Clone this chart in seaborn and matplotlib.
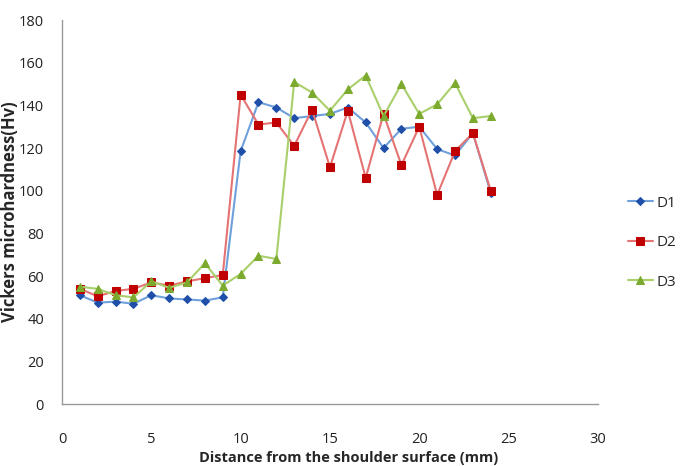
import numpy as np
import pandas as pd
import seaborn as sns
import matplotlib.pyplot as plt

# distance from shoulder surface (mm)
distance = [1, 2, 3, 4, 5, 6, 7, 8, 9, 10, 11, 12, 13, 14, 15, 16, 17, 18, 19, 20, 21, 22, 23, 24]

d1 = [51, 47.5, 48, 47, 51, 49.5, 49, 48.5, 50, 118.5, 141.5, 139, 134, 135, 136, 139,
      132, 120, 129, 130, 119.5, 116.5, 127, 99]
d2 = [54, 50.5, 53, 54, 57, 55.5, 57.5, 59, 60.5, 145, 131, 132, 121, 138, 111, 137.5,
      106, 136, 112, 130, 98, 118.5, 127, 100]
d3 = [55, 54, 51, 50, 57.5, 54.5, 57, 66, 55.5, 61, 69.5, 68, 151, 146, 137.5, 147.5,
      154, 135, 150, 136, 140.5, 150.5, 134, 135]

series_names = ['D1', 'D2', 'D3']
line_colors = ['#6FA0DC', '#E57373', '#A9CF6A']
marker_colors = ['#1F4FA8', '#C00000', '#7BAA2E']
markers = ['D', 's', '^']
marker_sizes = [4, 6, 6]

df = pd.DataFrame({'distance': distance, 'D1': d1, 'D2': d2, 'D3': d3})
long = df.melt(id_vars='distance', var_name='series', value_name='hv')

sns.set_style('white')
plt.rcParams['font.family'] = ['Open Sans', 'DejaVu Sans']

fig = plt.figure(figsize=(6.81, 4.66), dpi=100)
ax = fig.add_axes([0.091, 0.133, 0.787, 0.824])

for name, lc, mc, m, ms in zip(series_names, line_colors, marker_colors, markers, marker_sizes):
    sub = long[long['series'] == name]
    sns.lineplot(data=sub, x='distance', y='hv', ax=ax, color=lc, linewidth=1.5,
                 marker=m, markersize=ms, markerfacecolor=mc, markeredgecolor=mc,
                 label=name)

ax.set_xlim(0, 30)
ax.set_ylim(0, 180)
ax.set_xticks(range(0, 31, 5))
ax.set_yticks(range(0, 181, 20))
ax.tick_params(axis='both', direction='out', length=4, color='#999999',
               labelsize=10.5, labelcolor='#222222')
ax.tick_params(axis='x', pad=16)
ax.tick_params(axis='y', pad=9)
for s in ['top', 'right']:
    ax.spines[s].set_visible(False)
for s in ['left', 'bottom']:
    ax.spines[s].set_color('#999999')
    ax.spines[s].set_linewidth(1)

ax.set_xlabel('Distance from the shoulder surface (mm)', fontsize=10.5, fontweight='bold')
ax.set_ylabel('Vickers microhardness(Hv)', fontsize=12, fontweight='bold')
ax.xaxis.set_label_coords(0.534, -0.122)
ax.yaxis.set_label_coords(-0.08, 0.5)

ax.legend_.remove()
handles, labels = ax.get_legend_handles_labels()
fig.legend(handles, labels, loc='center left', bbox_to_anchor=(0.922, 0.479),
           frameon=False, fontsize=11, labelspacing=1.6, handlelength=1.65,
           handletextpad=0.2, borderpad=0, borderaxespad=0)

fig.savefig('out.png', dpi=100)
